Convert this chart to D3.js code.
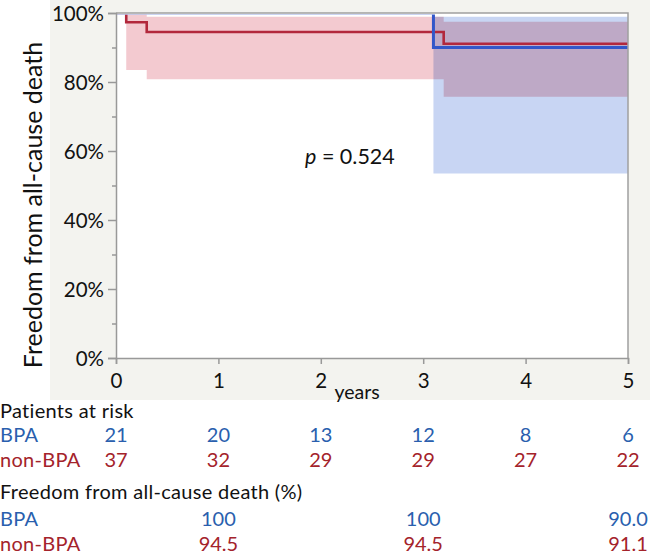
<!DOCTYPE html>
<html><head><meta charset="utf-8">
<script src="https://cdn.jsdelivr.net/npm/d3@7"></script>
<style>body{margin:0;background:#fff}svg{display:block;font-family:Lato,"Open Sans",sans-serif}</style>
</head><body><svg id="c" width="650" height="554"></svg>
<script>
// ---- data ----
const xTicks = [0, 1, 2, 3, 4, 5];
const yTicks = [0, 0.2, 0.4, 0.6, 0.8, 1.0];
const yMinorTicks = [0.1, 0.3, 0.5, 0.7, 0.9];
// Kaplan-Meier steps
const bpaTime = [0, 3.1];
const bpaSurv = [1.0, 0.900];
const nonTime = [0, 0.1, 0.3, 3.2];
const nonSurv = [1.0, 0.973, 0.945, 0.911];
// confidence bands
const bpaCITime = [3.1];
const bpaCILow = [0.535];
const bpaCIHigh = [0.989];
const nonCITime = [0.1, 0.3, 3.2];
const nonCILow = [0.835, 0.808, 0.757];
const nonCIHigh = [1.0, 0.989, 0.975];
const endTime = 5;
// tables
const riskTimes = [0, 1, 2, 3, 4, 5];
const riskBPA = ["21", "20", "13", "12", "8", "6"];
const riskNon = ["37", "32", "29", "29", "27", "22"];
const freeTimes = [1, 3, 5];
const freeBPA = ["100", "100", "90.0"];
const freeNon = ["94.5", "94.5", "91.1"];

const BLUE = "#3257c9", RED = "#b2283c", TBLUE = "#2a5fae", TRED = "#a4232b";

const svg = d3.select("#c");
const L = 116, R = 628, T = 13, B = 358;
const x = d3.scaleLinear().domain([0, 5]).range([L, R]);
const y = d3.scaleLinear().domain([0, 1]).range([B, T]);

svg.append("rect").attr("x", 50).attr("y", 0).attr("width", 600).attr("height", 400).attr("fill", "#f3f3ef");
svg.append("rect").attr("x", L).attr("y", T).attr("width", R - L).attr("height", B - T).attr("fill", "#fff");

svg.append("defs").append("clipPath").attr("id", "clip")
  .append("rect").attr("x", L).attr("y", T + 1.5).attr("width", R - L).attr("height", B - T);

const g = svg.append("g").attr("clip-path", "url(#clip)");

function band(t, lo, hi) {
  const pts = t.map((v, i) => ({t: v, lo: lo[i], hi: hi[i]}));
  pts.push({t: endTime, lo: lo[lo.length - 1], hi: hi[hi.length - 1]});
  return d3.area().curve(d3.curveStepAfter).x(d => x(d.t)).y0(d => y(d.lo)).y1(d => y(d.hi))(pts);
}
function line(t, s) {
  const pts = t.map((v, i) => ({t: v, s: s[i]}));
  pts.push({t: endTime, s: s[s.length - 1]});
  return d3.line().curve(d3.curveStepAfter).x(d => x(d.t)).y(d => y(d.s))(pts);
}

g.append("path").attr("d", band(bpaCITime, bpaCILow, bpaCIHigh)).attr("fill", "#c8d5f3");
g.append("path").attr("d", band(nonCITime, nonCILow, nonCIHigh)).attr("fill", "#f3cad0")
  .style("mix-blend-mode", "multiply");
g.append("path").attr("d", line(nonTime, nonSurv)).attr("fill", "none").attr("stroke", RED).attr("stroke-width", 2.6);
g.append("path").attr("d", line(bpaTime, bpaSurv)).attr("fill", "none").attr("stroke", BLUE).attr("stroke-width", 3);

// frame
svg.append("path").attr("d", `M${L},${T}H${R}V${B}`).attr("fill", "none").attr("stroke", "#a0a0a0").attr("stroke-width", 1.5);

// axes
const yAxis = svg.append("g").attr("transform", `translate(${L},0)`)
  .call(d3.axisLeft(y).tickValues(yTicks).tickFormat(d3.format(".0%")).tickSize(8).tickPadding(4));
svg.append("g").attr("transform", `translate(${L},0)`)
  .call(d3.axisLeft(y).tickValues(yMinorTicks).tickFormat("").tickSize(4))
  .call(a => a.select(".domain").remove());
const xAxis = svg.append("g").attr("transform", `translate(0,${B})`)
  .call(d3.axisBottom(x).tickValues(xTicks).tickFormat(d3.format("d")).tickSize(6).tickPadding(9));
svg.selectAll(".domain, .tick line").attr("stroke", "#999").attr("stroke-width", 1.5);
svg.selectAll(".tick text").attr("fill", "#111").style("font-size", "20.5px").style("font-family", "Lato, sans-serif");
yAxis.selectAll(".tick text").attr("dy", "0.35em");

svg.append("text").attr("x", 357).attr("y", 399).attr("text-anchor", "middle")
  .style("font-size", "19.5px").attr("fill", "#111").text("years");

svg.append("text").attr("transform", "translate(42,205) rotate(-90)").attr("text-anchor", "middle")
  .style("font-size", "25px").attr("fill", "#111").text("Freedom from all-cause death");

const pt = svg.append("text").attr("x", 305).attr("y", 164).style("font-size", "21.5px").attr("fill", "#111");
pt.append("tspan").style("font-style", "italic").text("p");
pt.append("tspan").text(" = 0.524");

// tables
const tf = "20px";
function label(txt, yy, col) {
  svg.append("text").attr("x", 0).attr("y", yy).style("font-size", tf).style("letter-spacing", "0.3px").attr("fill", col).text(txt);
}
function row(times, vals, yy, col) {
  svg.append("g").selectAll("text").data(vals).join("text")
    .attr("x", (d, i) => x(times[i])).attr("y", yy).attr("text-anchor", "middle")
    .style("font-size", tf).attr("fill", col).text(d => d);
}
label("Patients at risk", 418, "#111");
label("BPA", 442, TBLUE); row(riskTimes, riskBPA, 442, TBLUE);
label("non-BPA", 467, TRED); row(riskTimes, riskNon, 467, TRED);
label("Freedom from all-cause death (%)", 499, "#111");
label("BPA", 526, TBLUE); row(freeTimes, freeBPA, 526, TBLUE);
label("non-BPA", 551, TRED); row(freeTimes, freeNon, 551, TRED);
</script></body></html>
